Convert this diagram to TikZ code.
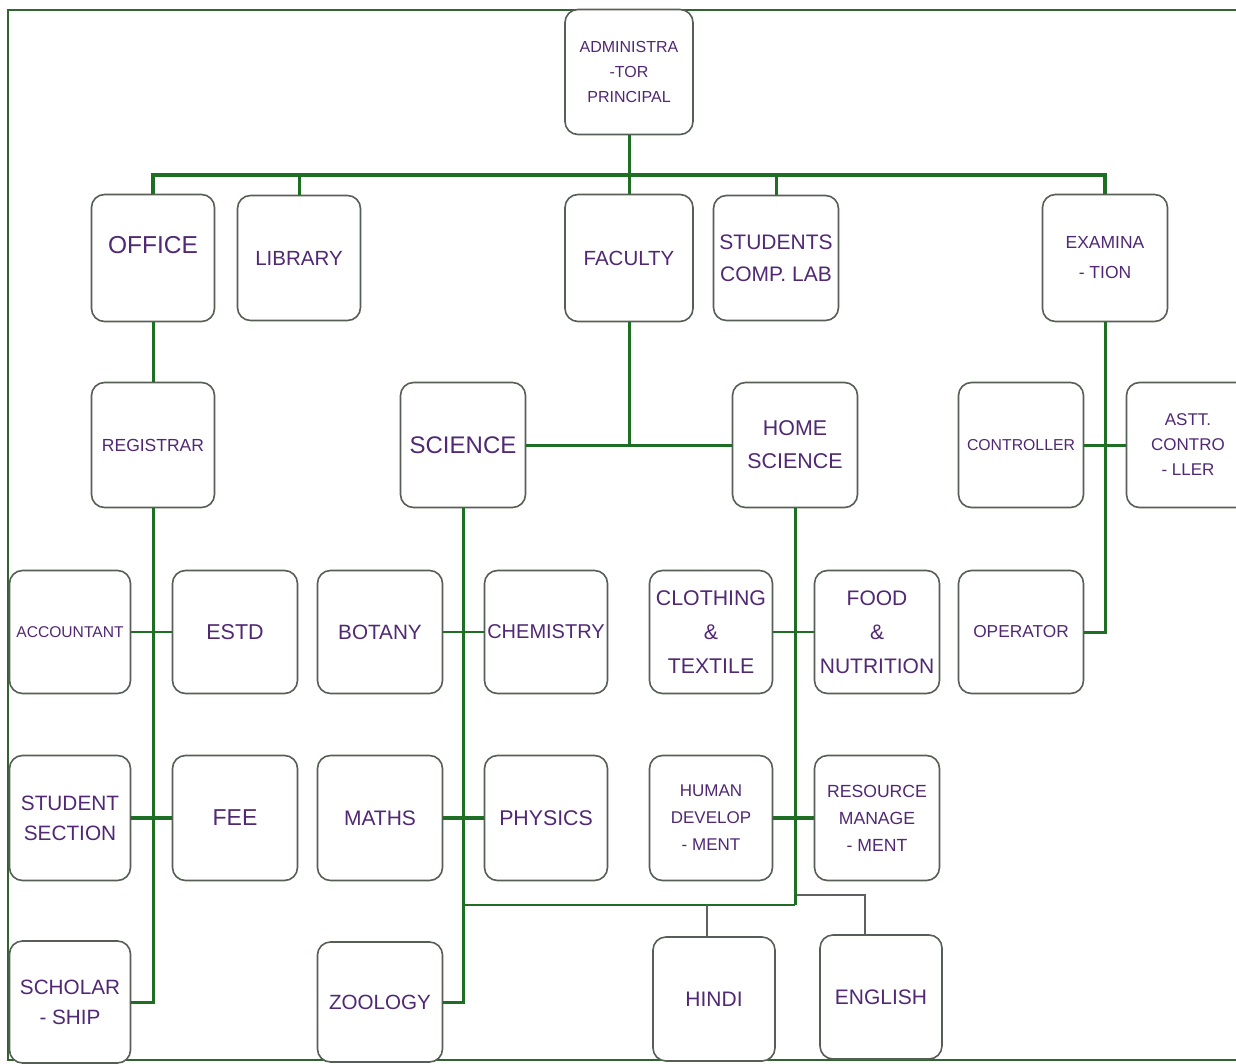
\documentclass[tikz,border=0pt]{standalone}
\usepackage{fontspec}
\setmainfont{Liberation Sans}

\definecolor{linegreen}{RGB}{30,110,35}
\definecolor{framegreen}{RGB}{50,100,50}
\definecolor{boxgray}{RGB}{85,95,85}
\definecolor{stubgray}{RGB}{95,95,95}
\definecolor{txtpurple}{RGB}{80,40,115}

\newcommand{\fsz}[2]{\fontsize{#1}{#2}\selectfont}

\tikzset{
	box/.style={draw=boxgray, fill=white, line width=1.6pt, rounded corners=13pt,
		minimum width=123pt, minimum height=125pt, inner sep=0pt,
		align=center, text=txtpurple},
	wire/.style={draw=linegreen, line width=3pt},
	thickwire/.style={draw=linegreen, line width=4.5pt},
	thinwire/.style={draw=linegreen, line width=2.2pt},
	graywire/.style={draw=stubgray, line width=2.2pt}
}

\begin{document}
\begin{tikzpicture}[x=1pt, y=-1pt]
	
	\useasboundingbox (0,0) rectangle (1236,1064);
	\fill[white] (0,0) rectangle (1236,1064);
	\draw [color = framegreen, line width=2pt] (8,10) rectangle (1252,1060);
	
	% top
	\node [box, minimum width=128pt, font=\fsz{16}{25}] (admin) at (629,72) {ADMINISTRA\\-TOR\\PRINCIPAL};
	\node [box, minimum height=127pt, font=\fsz{24.5}{30}] (office) at (153,258) {\raisebox{4pt}[0pt][0pt]{OFFICE}};
	\node [box, font=\fsz{20.5}{30}] (library) at (299,258) {LIBRARY};
	\node [box, minimum width=128pt, minimum height=127pt, font=\fsz{20.5}{30}] (faculty) at (629,258) {FACULTY};
	\node [box, minimum width=125pt, font=\fsz{21}{32}] (complab) at (776,258) {STUDENTS\\COMP. LAB};
	\node [box, minimum width=125pt, minimum height=127pt, font=\fsz{17.5}{30}] (exam) at (1105,258) {EXAMINA\\- TION};
	
	% second row
	\node [box, font=\fsz{17.5}{30}] (registrar) at (153,445) {REGISTRAR};
	\node [box, minimum width=125pt, font=\fsz{24}{30}] (science) at (463,445) {SCIENCE};
	\node [box, minimum width=125pt, font=\fsz{21.4}{33}] (home) at (795,445) {HOME\\SCIENCE};
	\node [box, minimum width=125pt, font=\fsz{15.8}{30}] (controller) at (1021,445) {CONTROLLER};
	\node [box, font=\fsz{17}{25}] (astt) at (1188,445) {ASTT.\\CONTRO\\- LLER};
	
	% third row
	\node [box, minimum width=121pt, minimum height=123pt, font=\fsz{15.6}{30}] (accountant) at (70,632) {ACCOUNTANT};
	\node [box, minimum width=125pt, minimum height=123pt, font=\fsz{21.5}{30}] (estd) at (235,632) {ESTD};
	\node [box, minimum width=125pt, minimum height=123pt, font=\fsz{20.7}{30}] (botany) at (380,632) {BOTANY};
	\node [box, minimum height=123pt, font=\fsz{20}{30}] (chemistry) at (546,632) {CHEMISTRY};
	\node [box, minimum height=123pt, font=\fsz{21.3}{34}] (clothing) at (711,632) {CLOTHING\\\&\\TEXTILE};
	\node [box, minimum width=125pt, minimum height=123pt, font=\fsz{21}{34}] (food) at (877,632) {FOOD\\\&\\NUTRITION};
	\node [box, minimum width=125pt, minimum height=123pt, font=\fsz{17.3}{30}] (operator) at (1021,632) {OPERATOR};
	
	% fourth row
	\node [box, minimum width=121pt, font=\fsz{20.8}{30}] (studsec) at (70,818) {STUDENT\\SECTION};
	\node [box, minimum width=125pt, font=\fsz{23}{30}] (fee) at (235,818) {FEE};
	\node [box, minimum width=125pt, font=\fsz{21}{30}] (maths) at (380,818) {MATHS};
	\node [box, font=\fsz{21.3}{30}] (physics) at (546,818) {PHYSICS};
	\node [box, font=\fsz{17}{27}] (humandev) at (711,818) {HUMAN\\DEVELOP\\- MENT};
	\node [box, minimum width=125pt, font=\fsz{17.6}{27}] (resource) at (877,818) {RESOURCE\\MANAGE\\- MENT};
	
	% last row
	\node [box, minimum width=121pt, minimum height=122pt, font=\fsz{20.7}{30}] (scholar) at (70,1002) {SCHOLAR\\- SHIP};
	\node [box, minimum width=125pt, minimum height=120pt, font=\fsz{20.6}{30}] (zoology) at (380,1002) {ZOOLOGY};
	\node [box, minimum width=122pt, minimum height=124pt, font=\fsz{21}{30}] (hindi) at (714,999) {HINDI};
	\node [box, minimum width=122pt, minimum height=124pt, font=\fsz{21}{30}] (english) at (881,997) {ENGLISH};
	
	% top bus
	\coordinate (bus) at (629,175);
	\draw [thickwire] (office.north) -- (office.north |- bus) -- (exam.north |- bus) -- (exam.north);
	\draw [wire] (admin.south) -- (faculty.north);
	\draw [wire] (library.north) -- (library.north |- bus);
	\draw [wire] (complab.north) -- (complab.north |- bus);
	
	% office
	\draw [wire] (office.south) -- (registrar.north);
	\draw [wire] (registrar.south) |- (scholar.east);
	\draw [thinwire] (accountant.east) -- (estd.west);
	\draw [thickwire] (studsec.east) -- (fee.west);
	
	% faculty
	\draw [wire] (faculty.south) -- (faculty.south |- science.east);
	\draw [wire] (science.east) -- (home.west);
	\draw [wire] (science.south) |- (zoology.east);
	\draw [thinwire] (botany.east) -- (chemistry.west);
	\draw [thickwire] (maths.east) -- (physics.west);
	\coordinate (lang) at (795,905);
	\draw [wire] (home.south) -- (lang);
	\draw [thinwire] (clothing.east) -- (food.west);
	\draw [thickwire] (humandev.east) -- (resource.west);
	\draw [thinwire] (science.south |- lang) -- (lang);
	\draw [graywire] ([xshift=-7pt]hindi.north |- lang) -- ([xshift=-7pt]hindi.north);
	\draw [graywire] ([xshift=2pt, yshift=10pt]lang) -| ([xshift=-16pt]english.north);
	
	% examination
	\draw [wire] (exam.south) |- (operator.east);
	\draw [wire] (controller.east) -- (astt.west);
	
\end{tikzpicture}
\end{document}
